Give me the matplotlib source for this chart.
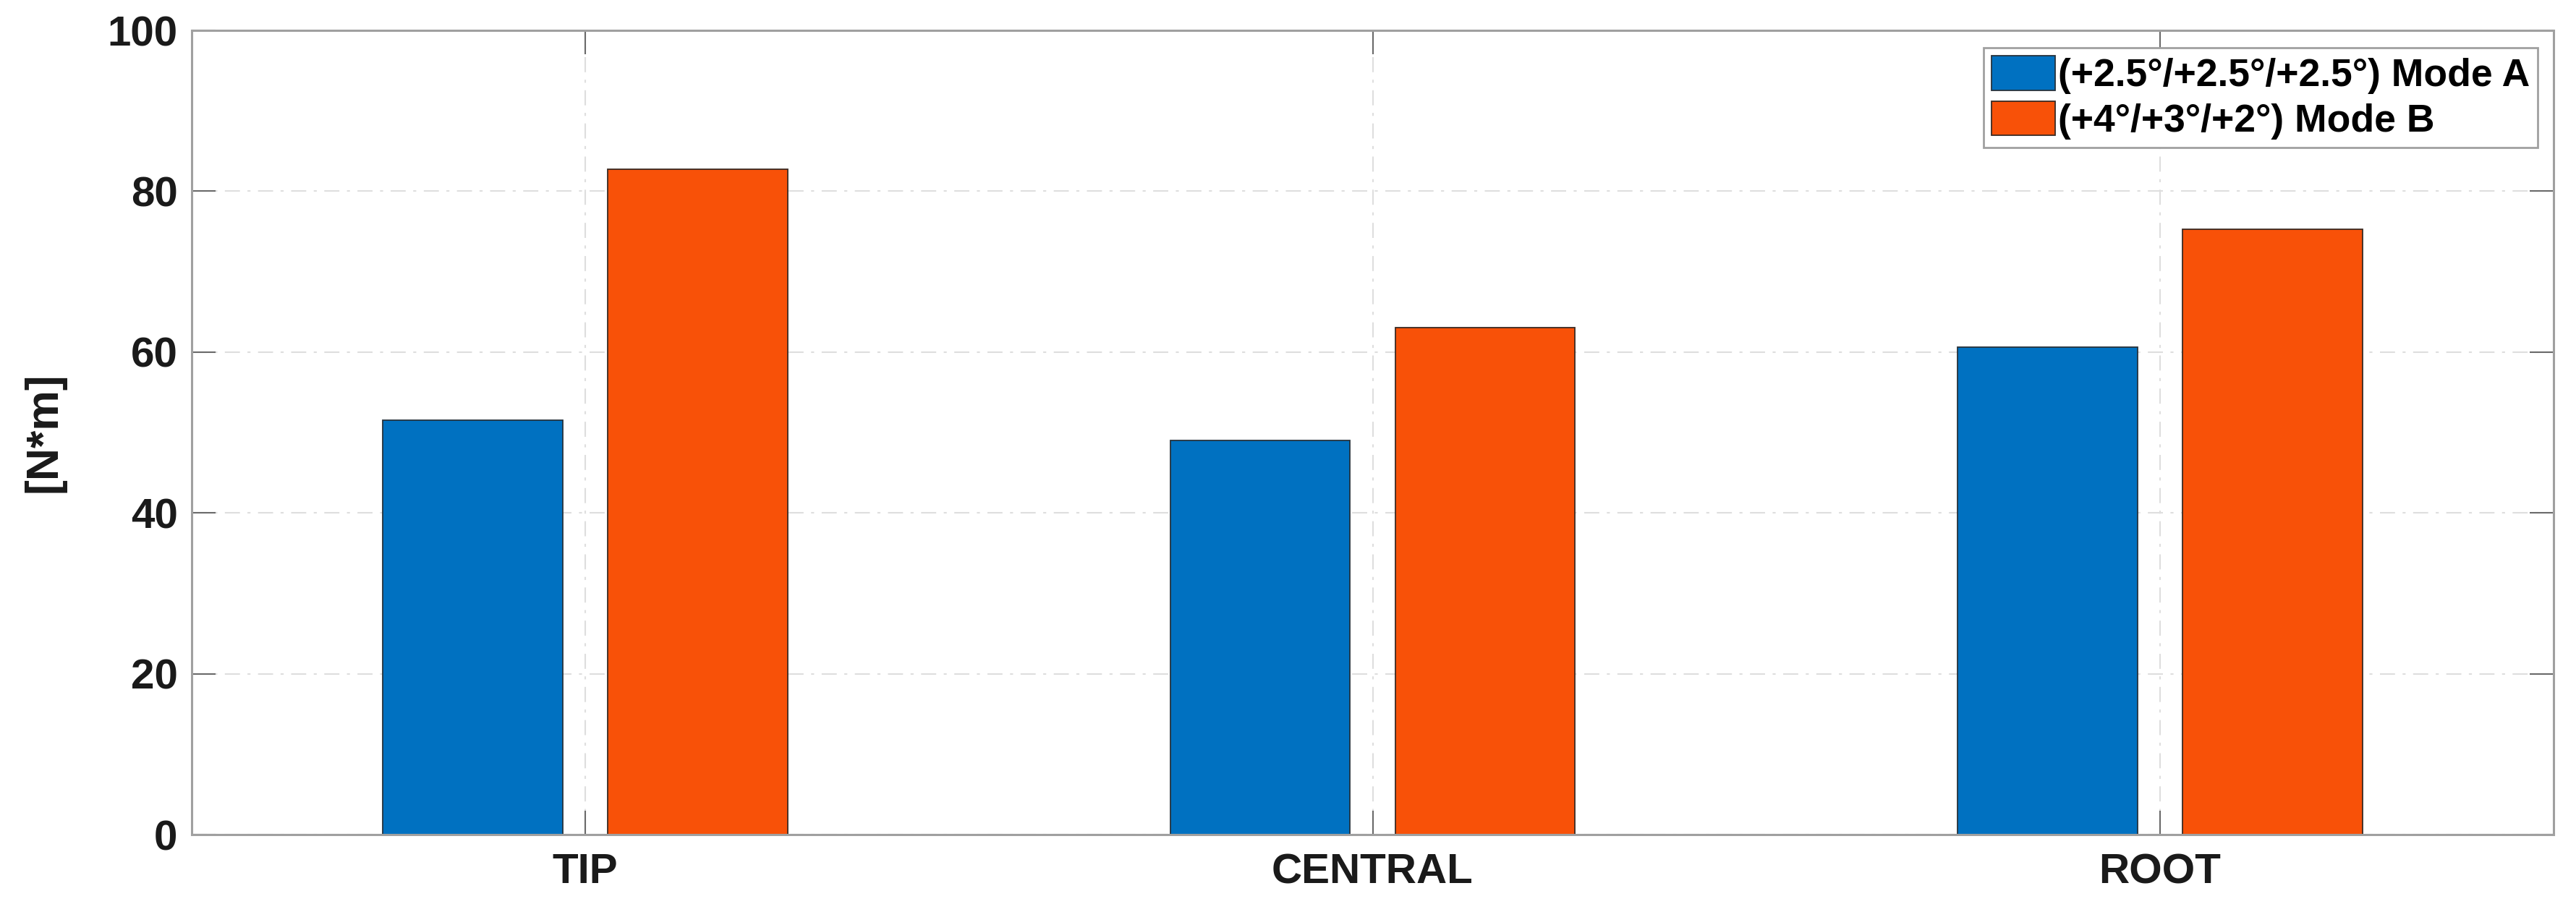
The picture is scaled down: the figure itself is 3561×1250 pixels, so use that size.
import matplotlib
matplotlib.use("Agg")
import matplotlib.pyplot as plt
import numpy as np

categories = ["TIP", "CENTRAL", "ROOT"]
mode_a = [51.5, 49.0, 60.6]
mode_b = [82.7, 63.0, 75.3]
series_labels = ["(+2.5°/+2.5°/+2.5°) Mode A", "(+4°/+3°/+2°) Mode B"]
yticks = [0, 20, 40, 60, 80, 100]

plt.rcParams['font.family'] = ['Liberation Sans', 'DejaVu Sans']
plt.rcParams['font.weight'] = 'bold'

fig = plt.figure(figsize=(35.61, 12.5), dpi=100)
ax = fig.add_axes([265/3561, 1 - 1154/1250, (3530-265)/3561, 1112/1250])

x = np.arange(1, len(categories) + 1)
w = 0.2286
off = 0.1429
ax.bar(x - off, mode_a, w, color='#0071C1', edgecolor='#26323c', linewidth=1.3,
       label=series_labels[0], zorder=3)
ax.bar(x + off, mode_b, w, color='#F85108', edgecolor='#3a2a22', linewidth=1.3,
       label=series_labels[1], zorder=3)

ax.set_xlim(0.5, 3.5)
ax.set_ylim(0, 100)
ax.set_xticks(x)
ax.set_xticklabels(categories)
ax.set_yticks(yticks)

ax.grid(True, color='#dedede', linestyle=(0, (10, 5, 2, 5)), linewidth=1.5, zorder=0)
ax.set_axisbelow(True)

for s in ax.spines.values():
    s.set_color('#a0a0a0')
    s.set_linewidth(2.2)
    s.set_zorder(4)

ax.tick_params(axis='both', direction='in', length=24, width=1.5, color='#6a6a6a',
               labelsize=42, labelcolor='#1a1a1a', top=True, right=True)
ax.tick_params(axis='y', pad=14)
ax.tick_params(axis='x', pad=18)
for lab in ax.get_xticklabels() + ax.get_yticklabels():
    lab.set_fontweight('bold')

ax.set_ylabel("[N*m]", fontsize=45, fontweight='bold', color='#1a1a1a')
ax.yaxis.set_label_coords(-0.0533, 0.5)

leg = ax.legend(loc='upper right', bbox_to_anchor=(0.9933, 0.9784), borderaxespad=0,
                prop={'weight': 'bold', 'size': 38.5}, frameon=True, fancybox=False,
                handlelength=1.65, handleheight=1.0, handletextpad=0.08,
                labelspacing=0.18, borderpad=0.2)
leg.get_frame().set_edgecolor('#a0a0a0')
leg.get_frame().set_linewidth(2.0)
leg.get_frame().set_alpha(1)
leg.set_zorder(5)

fig.savefig("out.png", dpi=100, facecolor='white')
